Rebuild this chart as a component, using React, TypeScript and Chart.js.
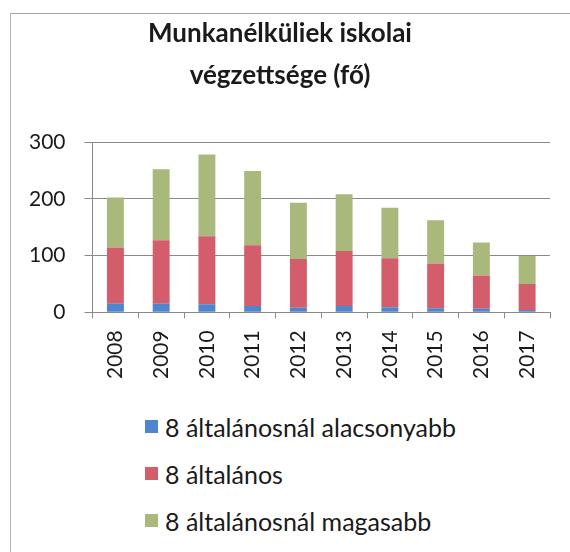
import React, { useEffect, useRef } from "react";
import { Chart, registerables } from "chart.js";

Chart.register(...registerables);

const years = ["2008", "2009", "2010", "2011", "2012", "2013", "2014", "2015", "2016", "2017"];
const seriesNames = ["8 általánosnál alacsonyabb", "8 általános", "8 általánosnál magasabb"];
const below8 = [15, 15, 14, 11, 8, 11, 9, 7, 6, 4];
const general8 = [99, 112, 120, 107, 86, 97, 86, 79, 59, 46];
const above8 = [88, 125, 144, 131, 99, 100, 89, 76, 58, 49];
const seriesColors = ["#4f84cf", "#d35d6b", "#a9b97c"];
const yTicks = [0, 100, 200, 300];
const titleLines = ["Munkanélküliek iskolai", "végzettsége (fő)"];

const FONT = "Lato, 'Open Sans', sans-serif";

export default function App() {
  const canvasRef = useRef<HTMLCanvasElement | null>(null);

  useEffect(() => {
    if (!canvasRef.current) return;
    const values = [below8, general8, above8];
    const chart = new Chart(canvasRef.current, {
      type: "bar",
      data: {
        labels: years,
        datasets: seriesNames.map((name, i) => ({
          label: name,
          data: values[i],
          backgroundColor: seriesColors[i],
          borderWidth: 0,
          categoryPercentage: 1,
          barPercentage: 0.37,
        })),
      },
      options: {
        animation: false,
        responsive: false,
        devicePixelRatio: 1,
        layout: { padding: { left: 10, right: 20, top: 0, bottom: 0 } },
        plugins: {
          legend: { display: false },
          tooltip: { enabled: false },
          title: {
            display: true,
            text: titleLines,
            color: "#1a1a1a",
            font: { family: FONT, size: 26, weight: "bold", lineHeight: 42 / 26 },
            padding: { top: 13, bottom: 45 },
          },
        },
        scales: {
          x: {
            stacked: true,
            grid: {
              display: true,
              drawOnChartArea: false,
              drawTicks: true,
              tickLength: 6,
              color: "#8a8a8a",
              offset: true,
            },
            border: { display: true, color: "#8a8a8a" },
            ticks: {
              color: "#1a1a1a",
              font: { family: FONT, size: 21 },
              minRotation: 90,
              maxRotation: 90,
              padding: 12,
            },
          },
          y: {
            stacked: true,
            min: 0,
            max: 300,
            afterBuildTicks: (axis: any) => {
              axis.ticks = yTicks.map((v) => ({ value: v }));
            },
            grid: {
              color: "#8a8a8a",
              tickLength: 8,
            },
            border: { display: true, color: "#8a8a8a" },
            ticks: {
              color: "#1a1a1a",
              font: { family: FONT, size: 21 },
              padding: 19,
            },
          },
        },
      },
    });
    return () => chart.destroy();
  }, []);

  return (
    <div style={{ position: "fixed", left: 0, top: 0, width: 570, height: 552, background: "#fff", overflow: "hidden" }}>
      <div
        style={{
          position: "absolute",
          left: 10,
          top: 13,
          width: 600,
          height: 600,
          borderLeft: "1px solid #b5b5b5",
          borderTop: "1px solid #a5a5a5",
        }}
      />
      <canvas ref={canvasRef} width={570} height={391} style={{ position: "absolute", left: 0, top: 0 }} />
      <div style={{ position: "absolute", left: 145, top: 403, fontFamily: FONT, fontSize: 25, color: "#1a1a1a" }}>
        {seriesNames.map((name, i) => (
          <div key={name} style={{ display: "flex", alignItems: "center", height: 47 }}>
            <span style={{ display: "inline-block", width: 13, height: 13, background: seriesColors[i], marginRight: 7 }} />
            <span>{name}</span>
          </div>
        ))}
      </div>
    </div>
  );
}
